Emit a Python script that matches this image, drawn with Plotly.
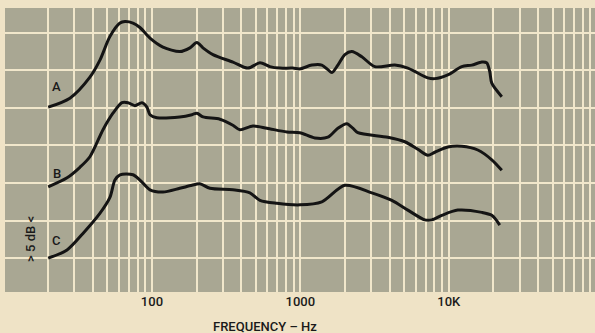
import plotly.graph_objects as go

# curve A
freq_a = [20, 28, 38.2, 44.7, 52.1, 60.9, 65.8, 74.5, 83, 97, 118.6, 154.4, 180.3, 200.9, 220.6,
          257.6, 351.3, 443, 533.8, 623, 727.8, 890, 992, 1195, 1395, 1532, 1630, 1789, 1994,
          2223, 2595, 3176, 4329, 5296, 7222, 8050, 9847, 12230, 14280, 16690, 18030, 18890,
          19480, 22750]
db_a = [20.1, 21.3, 24.1, 26.4, 29.5, 31.3, 31.5, 31.3, 30.7, 29.3, 28.1, 27.5, 28.0, 28.7, 28.0,
        27.1, 26.1, 25.3, 26.0, 25.5, 25.3, 25.3, 25.2, 25.7, 25.7, 25.1, 24.7, 25.7, 27.1,
        27.5, 26.8, 25.5, 25.7, 25.3, 24.0, 23.9, 24.4, 25.5, 25.7, 26.1, 26.0, 24.8,
        23.3, 21.5]

# curve B
freq_b = [20, 26.8, 32.7, 38.2, 46.8, 54.6, 62.8, 68.9, 76.8, 85.6, 92.5, 97, 108, 154, 186, 201,
          221, 287, 351, 391, 479, 595, 811, 992, 1252, 1532, 1789, 2056, 2257, 2439, 3883,
          5055, 6183, 7222, 8050, 9847, 12230, 15680, 19480, 22750]
db_b = [9.5, 10.7, 12.1, 13.5, 17.1, 19.3, 20.7, 20.7, 20.3, 20.7, 20.1, 19.1, 18.7, 18.8, 19.1, 19.3,
        18.8, 18.5, 17.7, 17.1, 17.6, 17.3, 16.8, 16.7, 16.0, 16.1, 17.3, 17.9, 17.3, 16.7, 16.1,
        15.5, 14.5, 13.7, 14.1, 14.8, 14.9, 14.4, 13.1, 11.7]

# curve C
freq_c = [20, 26.8, 34.3, 44.7, 52.1, 56.3, 60.9, 74.5, 83, 97, 118.6, 154, 186, 210, 245.8, 351,
          457, 534, 694, 992, 1395, 1994, 3030, 4133, 5296, 6893, 7686, 8972, 11500, 16690,
          19480, 22050]
db_c = [0.0, 1.1, 3.3, 6.0, 8.1, 10.4, 11.1, 11.1, 10.4, 9.1, 8.8, 9.3, 9.7, 9.9, 9.3, 9.1,
        8.7, 7.7, 7.3, 7.1, 7.5, 9.7, 8.7, 7.7, 6.4, 5.1, 5.1, 5.7, 6.4, 6.1,
        5.7, 4.4]

curve_names = ['A', 'B', 'C']
label_db = [22.8, 11.3, 2.4]

# grid at every integer multiple of a decade, labels only on 100 / 1000 / 10K
grid_freqs = [m * 10 ** d for d in range(1, 5) for m in range(1, 10)]
tick_labels = {100: '100', 1000: '1000', 10000: '10K'}
grid_db = [0, 5, 10, 15, 20, 25, 30]

FONT = 'Roboto, Liberation Sans, sans-serif'

fig = go.Figure()
for f, d in [(freq_a, db_a), (freq_b, db_b), (freq_c, db_c)]:
    fig.add_trace(go.Scatter(
        x=f, y=d, mode='lines',
        line=dict(color='#141414', width=3, shape='spline', smoothing=0.8),
        showlegend=False, hoverinfo='skip'
    ))

for name, yd in zip(curve_names, label_db):
    fig.add_annotation(x=1.36, y=yd, xref='x', yref='y', text=name, showarrow=False,
                       font=dict(family=FONT, size=13, color='#1a1a1a', weight=500))

# "> 5 dB <" marker spanning one grid division
fig.add_annotation(x=(21 - 5) / 590, y=2.5, xref='paper', yref='y', text='> 5 dB <',
                   textangle=-90, showarrow=False,
                   font=dict(family=FONT, size=13, color='#1a1a1a', weight=500))

# x-axis title placed like the original (left of plot centre, under the tick labels)
fig.add_annotation(x=(265 - 5) / 590, y=-0.088, xref='paper', yref='paper',
                   yanchor='top', text='FREQUENCY – Hz', showarrow=False,
                   font=dict(family=FONT, size=13, color='#1a1a1a', weight=500))

fig.update_layout(
    width=595, height=333,
    margin=dict(l=5, r=0, t=8, b=41),
    paper_bgcolor='#efe3c6',
    plot_bgcolor='#a9a793',
    xaxis=dict(
        type='log', range=[1.01, 4.985],
        tickvals=grid_freqs,
        ticktext=[tick_labels.get(v, '') for v in grid_freqs],
        showgrid=True, gridcolor='#f1e7cb', gridwidth=1.6,
        zeroline=False, showline=False, ticks='',
        tickfont=dict(family=FONT, size=13, color='#1a1a1a', weight=500)
    ),
    yaxis=dict(
        range=[-4.5, 33.3],
        tickvals=grid_db, showticklabels=False,
        showgrid=True, gridcolor='#f1e7cb', gridwidth=1.8,
        zeroline=False, showline=False, ticks=''
    )
)

fig.write_html("out.html", config={'displayModeBar': False},
               post_script="document.body.style.margin='0';")
